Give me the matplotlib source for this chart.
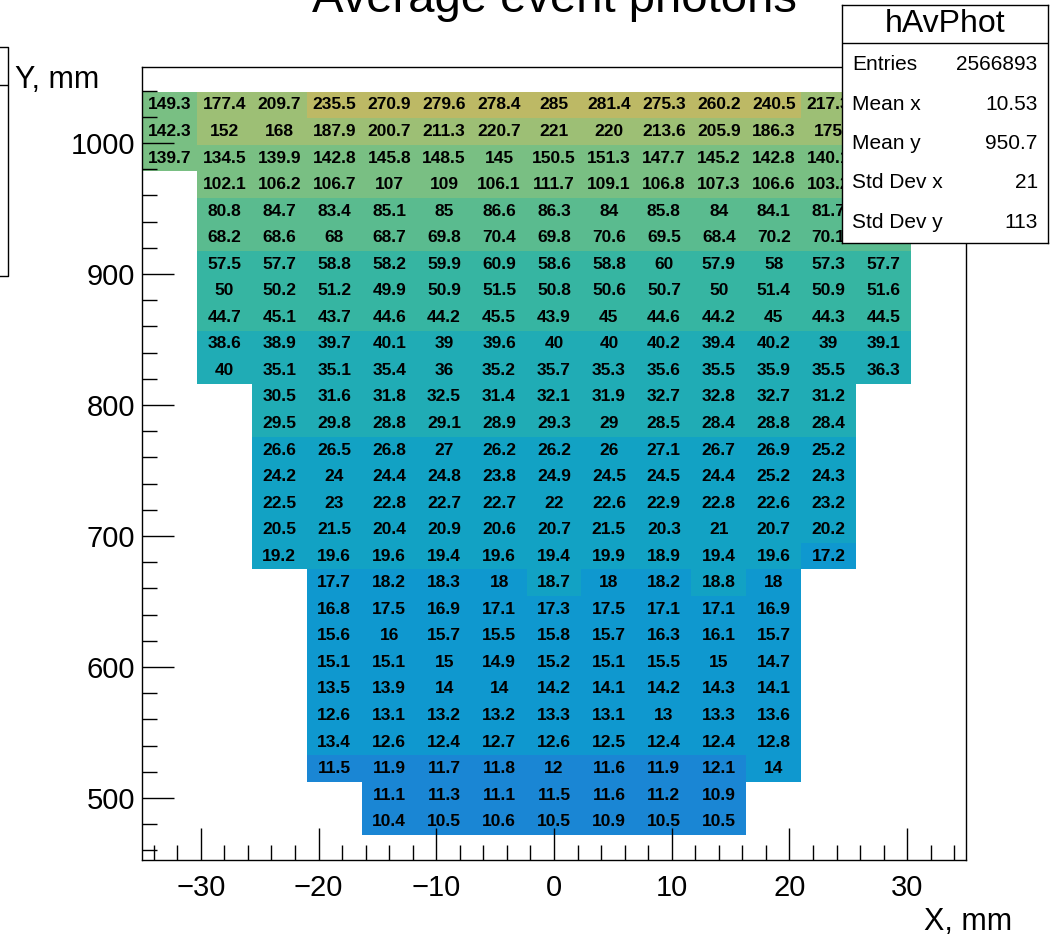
import numpy as np
import matplotlib
matplotlib.use("Agg")
import matplotlib.pyplot as plt
from matplotlib.colors import ListedColormap, BoundaryNorm
from matplotlib.ticker import MultipleLocator
from matplotlib.lines import Line2D

plt.rcParams['font.family'] = ['Liberation Sans', 'DejaVu Sans']

# histogram binning (15 x 28 cells)
x_edges = np.linspace(-35, 35, 16)
y_edges = np.linspace(471.8, 1039.2, 29)

# rows listed from top to bottom; first filled column of each row
row_start = [0, 0, 0, 1, 1, 1, 1, 1, 1, 1, 1, 2, 2, 2, 2, 2, 2, 2,
             3, 3, 3, 3, 3, 3, 3, 3, 4, 4]
# cells under the stats box (last ones of rows 0-5) are estimated
row_values = [
    [149.3, 177.4, 209.7, 235.5, 270.9, 279.6, 278.4, 285, 281.4, 275.3, 260.2, 240.5, 217.3, 190, 155],
    [142.3, 152, 168, 187.9, 200.7, 211.3, 220.7, 221, 220, 213.6, 205.9, 186.3, 175, 160, 140],
    [139.7, 134.5, 139.9, 142.8, 145.8, 148.5, 145, 150.5, 151.3, 147.7, 145.2, 142.8, 140.1, 138, 135],
    [102.1, 106.2, 106.7, 107, 109, 106.1, 111.7, 109.1, 106.8, 107.3, 106.6, 103.2, 101],
    [80.8, 84.7, 83.4, 85.1, 85, 86.6, 86.3, 84, 85.8, 84, 84.1, 81.7, 80],
    [68.2, 68.6, 68, 68.7, 69.8, 70.4, 69.8, 70.6, 69.5, 68.4, 70.2, 70.1, 69],
    [57.5, 57.7, 58.8, 58.2, 59.9, 60.9, 58.6, 58.8, 60, 57.9, 58, 57.3, 57.7],
    [50, 50.2, 51.2, 49.9, 50.9, 51.5, 50.8, 50.6, 50.7, 50, 51.4, 50.9, 51.6],
    [44.7, 45.1, 43.7, 44.6, 44.2, 45.5, 43.9, 45, 44.6, 44.2, 45, 44.3, 44.5],
    [38.6, 38.9, 39.7, 40.1, 39, 39.6, 40, 40, 40.2, 39.4, 40.2, 39, 39.1],
    [40, 35.1, 35.1, 35.4, 36, 35.2, 35.7, 35.3, 35.6, 35.5, 35.9, 35.5, 36.3],
    [30.5, 31.6, 31.8, 32.5, 31.4, 32.1, 31.9, 32.7, 32.8, 32.7, 31.2],
    [29.5, 29.8, 28.8, 29.1, 28.9, 29.3, 29, 28.5, 28.4, 28.8, 28.4],
    [26.6, 26.5, 26.8, 27, 26.2, 26.2, 26, 27.1, 26.7, 26.9, 25.2],
    [24.2, 24, 24.4, 24.8, 23.8, 24.9, 24.5, 24.5, 24.4, 25.2, 24.3],
    [22.5, 23, 22.8, 22.7, 22.7, 22, 22.6, 22.9, 22.8, 22.6, 23.2],
    [20.5, 21.5, 20.4, 20.9, 20.6, 20.7, 21.5, 20.3, 21, 20.7, 20.2],
    [19.2, 19.6, 19.6, 19.4, 19.6, 19.4, 19.9, 18.9, 19.4, 19.6, 17.2],
    [17.7, 18.2, 18.3, 18, 18.7, 18, 18.2, 18.8, 18],
    [16.8, 17.5, 16.9, 17.1, 17.3, 17.5, 17.1, 17.1, 16.9],
    [15.6, 16, 15.7, 15.5, 15.8, 15.7, 16.3, 16.1, 15.7],
    [15.1, 15.1, 15, 14.9, 15.2, 15.1, 15.5, 15, 14.7],
    [13.5, 13.9, 14, 14, 14.2, 14.1, 14.2, 14.3, 14.1],
    [12.6, 13.1, 13.2, 13.2, 13.3, 13.1, 13, 13.3, 13.6],
    [13.4, 12.6, 12.4, 12.7, 12.6, 12.5, 12.4, 12.4, 12.8],
    [11.5, 11.9, 11.7, 11.8, 12, 11.6, 11.9, 12.1, 14],
    [11.1, 11.3, 11.1, 11.5, 11.6, 11.2, 10.9],
    [10.4, 10.5, 10.6, 10.5, 10.9, 10.5, 10.5],
]

# log-spaced colour levels (ROOT palette, logz)
levels = [1, 12.2, 18.5, 28.2, 43, 65.5, 99.7, 151.6, 230.7, 400]
level_colors = ['#1a86d4', '#0f98cf', '#12a2c4', '#20acb5', '#36b5a2',
                '#5abb8f', '#79bf83', '#9dbf75', '#bdb965']

stats_labels = ["Entries", "Mean x", "Mean y", "Std Dev x", "Std Dev y"]
stats_values = ["2566893", "10.53", "950.7", "21", "113"]

nrows = len(row_values)
Z = np.full((nrows, len(x_edges) - 1), np.nan)
for r, (c0, vals) in enumerate(zip(row_start, row_values)):
    Z[nrows - 1 - r, c0:c0 + len(vals)] = vals
Z = np.ma.masked_invalid(Z)

cmap = ListedColormap(level_colors)
norm = BoundaryNorm(levels, cmap.N)

fig = plt.figure(figsize=(10.5, 9.4), dpi=100)
ax = fig.add_axes([142/1050, 80/940, 824/1050, 793/940])
ax.pcolormesh(x_edges, y_edges, Z, cmap=cmap, norm=norm)

ax.set_xlim(-35, 35)
ax.set_ylim(452.7, 1058)

# stats box sits over the top-right corner of the frame
sb_rect = [842/1050, 1 - 243/940, 206/1050, 238/940]

xc = (x_edges[:-1] + x_edges[1:]) / 2
yc = (y_edges[:-1] + y_edges[1:]) / 2
to_fig = ax.transData + fig.transFigure.inverted()
for i in range(Z.shape[0]):
    for j in range(Z.shape[1]):
        if np.ma.is_masked(Z[i, j]):
            continue
        fx, fyy = to_fig.transform((xc[j], yc[i]))
        if fx > sb_rect[0] and fyy > sb_rect[1] - 0.008:
            continue  # label hidden behind the stats box
        ax.text(xc[j], yc[i], f"{Z[i, j]:g}", ha='center', va='center',
                fontsize=12.5, fontweight='bold', color='black')

ax.xaxis.set_major_locator(MultipleLocator(10))
ax.xaxis.set_minor_locator(MultipleLocator(2))
ax.yaxis.set_major_locator(MultipleLocator(100))
ax.yaxis.set_minor_locator(MultipleLocator(20))
ax.tick_params(which='both', direction='in', top=False, right=False, width=1)
ax.tick_params(which='major', length=23, labelsize=21)
ax.tick_params(axis='x', which='major', pad=10)
ax.tick_params(axis='y', which='major', pad=5)
ax.tick_params(which='minor', length=11)
for s in ax.spines.values():
    s.set_linewidth(1)

fig.text(555/1050, 1 - 12/940, "Average event photons", ha='center',
         va='baseline', fontsize=34)
fig.text(15/1050, 1 - 80/940, "Y, mm", ha='left', va='center', fontsize=22)
fig.text(1012/1050, 1 - 922/940, "X, mm", ha='right', va='center', fontsize=22)

# stats box
sb = fig.add_axes(sb_rect)
sb.set_xlim(0, 1)
sb.set_ylim(0, 1)
sb.set_xticks([])
sb.set_yticks([])
sb.set_facecolor('white')
for s in sb.spines.values():
    s.set_linewidth(1)
sb.axhline(0.84, color='black', lw=1)
sb.text(0.5, 0.92, "hAvPhot", ha='center', va='center', fontsize=23)
for k, (lab, val) in enumerate(zip(stats_labels, stats_values)):
    yy = 0.748 - k * 0.165
    sb.text(0.05, yy, lab, ha='left', va='center', fontsize=15)
    sb.text(0.95, yy, val, ha='right', va='center', fontsize=15)

# cut-off box at the left edge
def fy(p):
    return 1 - p / 940

fig.add_artist(Line2D([0, 8/1050, 8/1050, 0], [fy(47), fy(47), fy(276), fy(276)],
                      color='black', lw=1))
fig.add_artist(Line2D([0, 7/1050], [fy(85), fy(85)], color='black', lw=1))

fig.savefig("out.png", dpi=100)
